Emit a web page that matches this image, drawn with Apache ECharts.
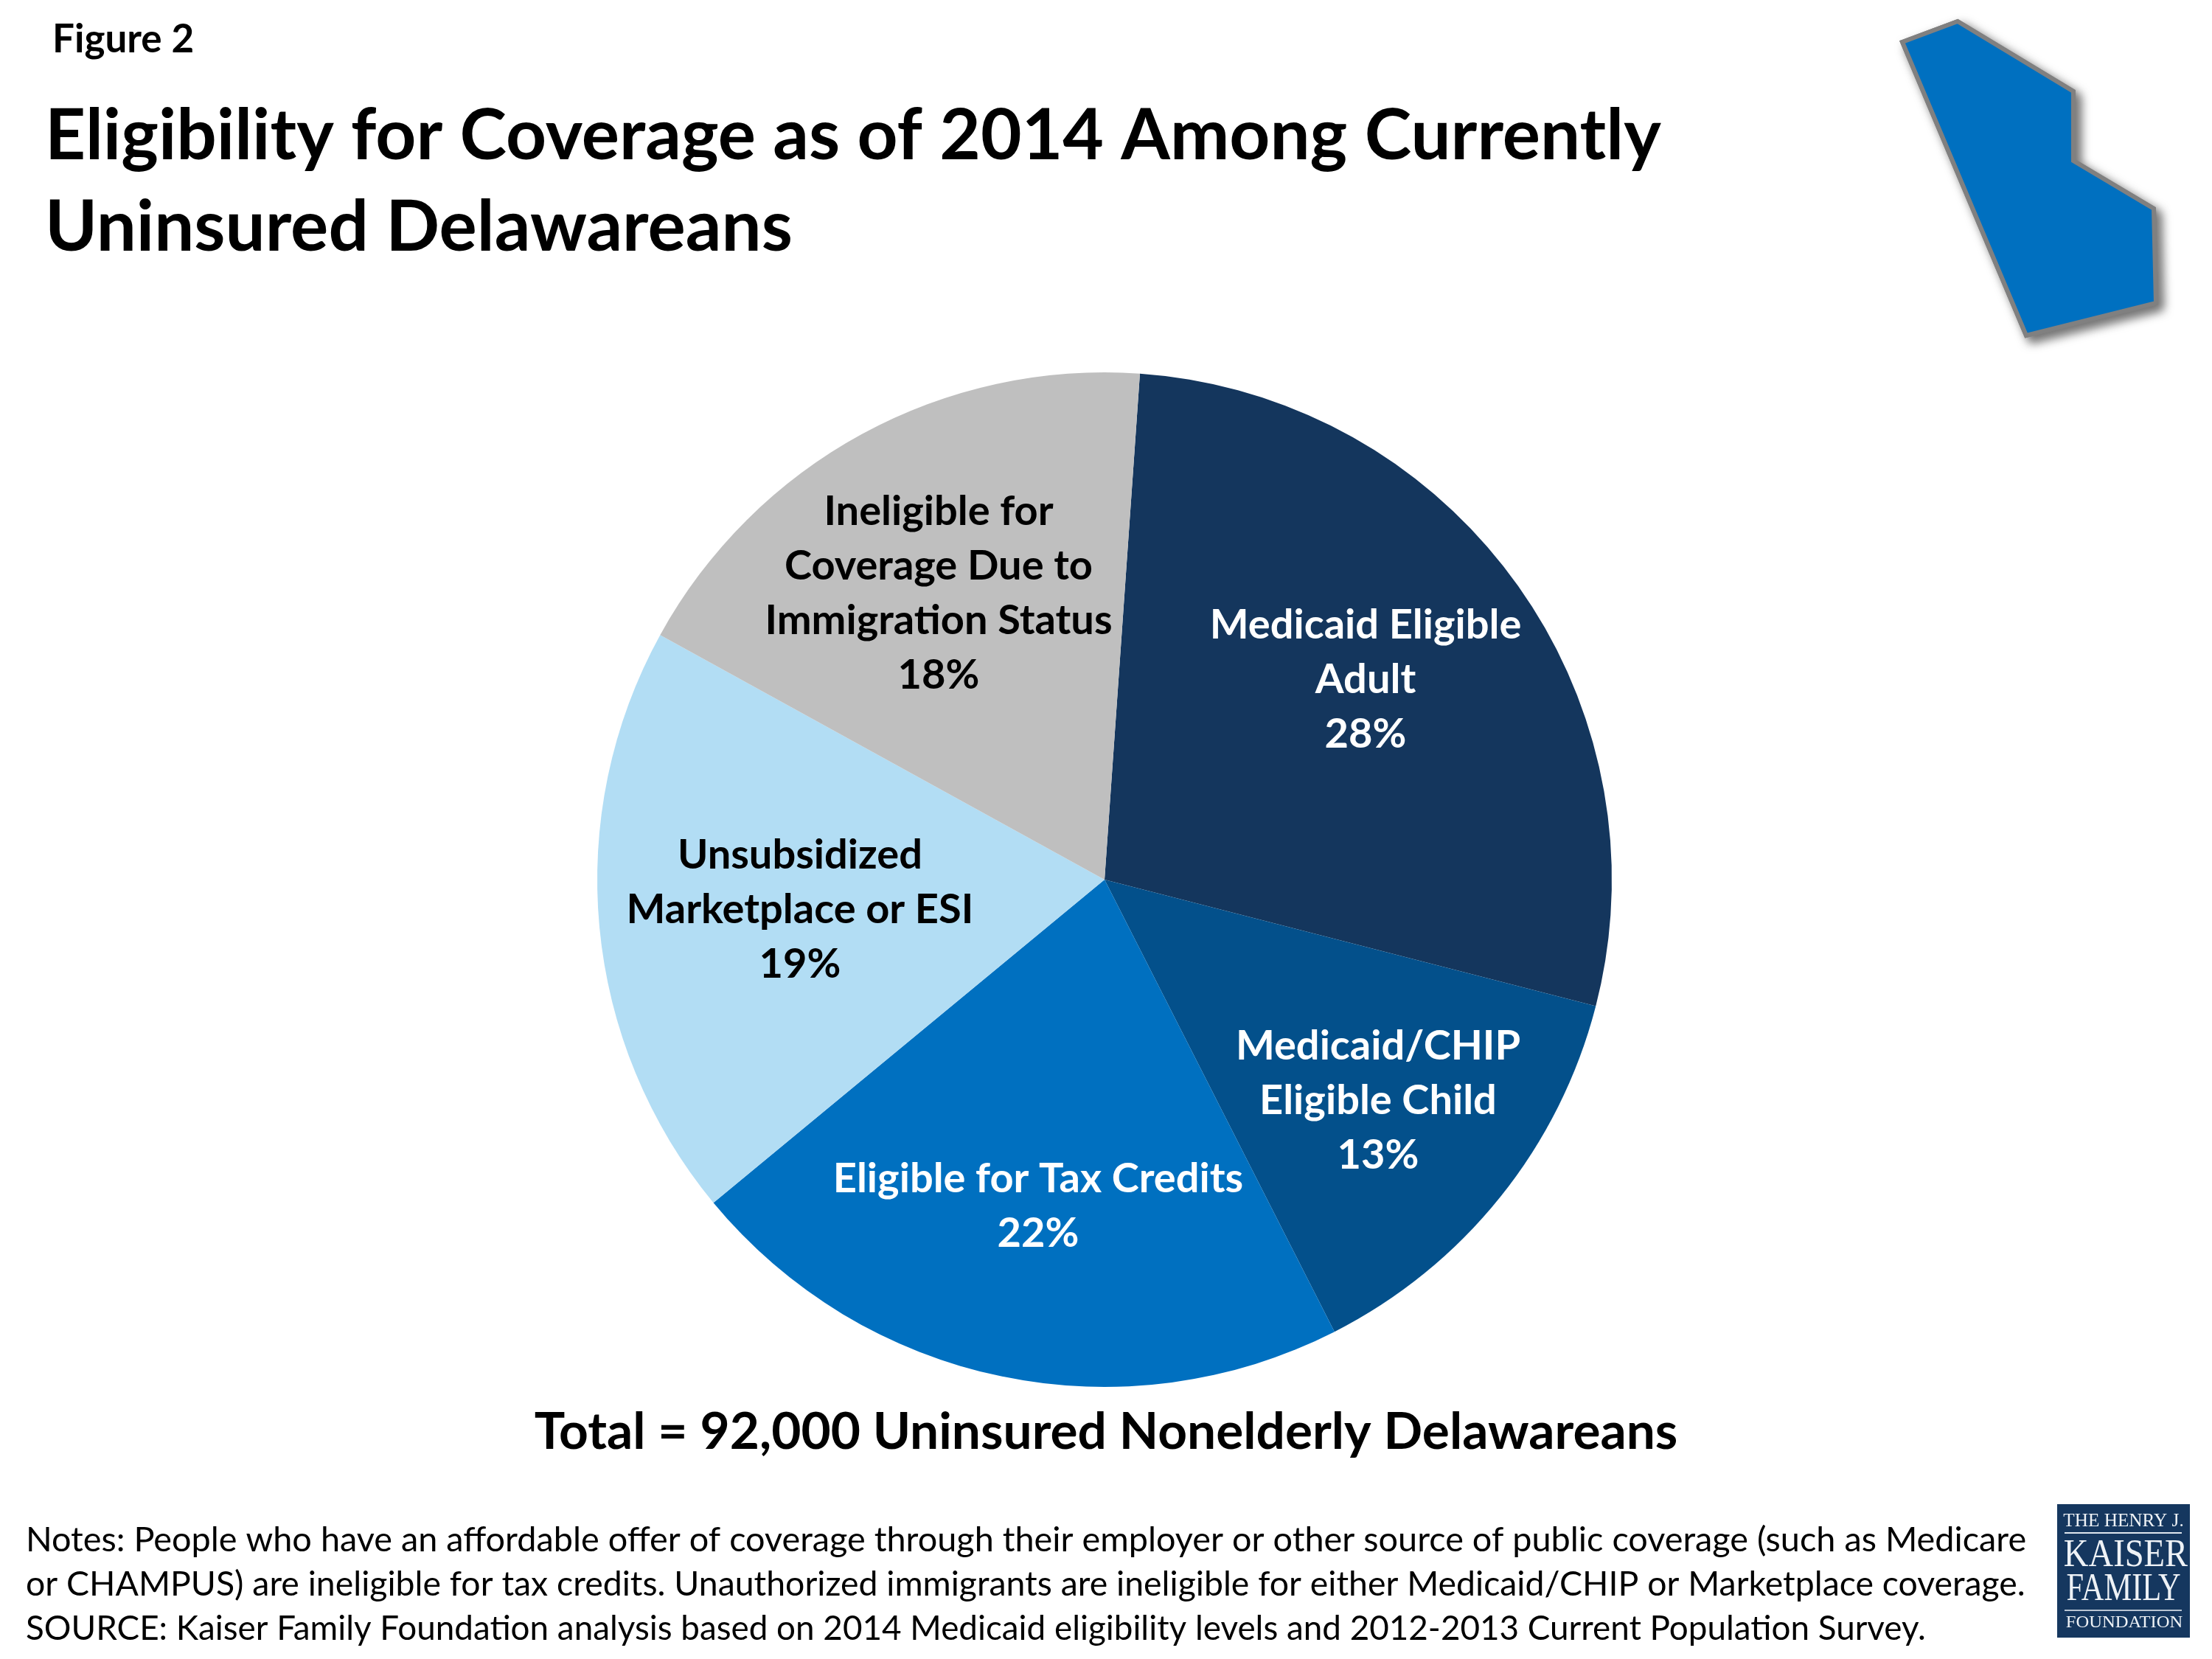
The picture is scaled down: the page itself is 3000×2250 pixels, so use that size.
<!DOCTYPE html>
<html>
<head>
<meta charset="utf-8">
<title>Figure 2</title>
<script src="https://cdn.jsdelivr.net/npm/echarts@6/dist/echarts.min.js"></script>
<style>
  html, body { margin: 0; padding: 0; background: #fff; }
  #chart { width: 3000px; height: 2250px; }
</style>
</head>
<body>
<div id="chart"></div>
<script>
var categories = [
  'Medicaid Eligible\nAdult',
  'Medicaid/CHIP\nEligible Child',
  'Eligible for Tax Credits',
  'Unsubsidized\nMarketplace or ESI',
  'Ineligible for\nCoverage Due to\nImmigration Status'
];
// slice sizes, printed labels are rounded
var sliceValues = [27.9, 13.5, 21.5, 19, 18.1];
var printedPercents = ['28%', '13%', '22%', '19%', '18%'];
var sliceColors = ['#14365d', '#03508b', '#0070c0', '#b2ddf4', '#bfbfbf'];
var labelColors = ['#fff', '#fff', '#fff', '#000', '#000'];

var figureLabel = 'Figure 2';
var titleText = 'Eligibility for Coverage as of 2014 Among Currently\nUninsured Delawareans';
var totalText = 'Total = 92,000 Uninsured Nonelderly Delawareans';
var notesLines = [
  'Notes: People who have an affordable offer of coverage through their employer or other source of public coverage (such as Medicare',
  'or CHAMPUS) are ineligible for tax credits. Unauthorized immigrants are ineligible for either Medicaid/CHIP or Marketplace coverage.',
  'SOURCE: Kaiser Family Foundation analysis based on 2014 Medicaid eligibility levels and 2012-2013 Current Population Survey.'
];
// lato runs a bit different per line, sizes keep the line ends where they belong
var notesSizes = [46.8, 46.4, 45.8];

// where each slice label block is centred
var labelCenters = [[1852, 922], [1869, 1493], [1408, 1636], [1085, 1234], [1273, 805]];

var FONT = 'Lato, sans-serif';
var LOGO_BLUE = '#15375f';
var DELAWARE = [[2580, 57], [2655, 29], [2812, 124], [2812, 218], [2921, 283], [2924, 411], [2748, 455]];

var chart = echarts.init(document.getElementById('chart'));

function logoText(text, cx, y, size, sx) {
  return {
    type: 'text',
    x: cx, y: y, scaleX: sx, scaleY: 1,
    style: {
      text: text, fill: '#eef2f6', font: size + 'px "Liberation Serif"',
      textAlign: 'center', textVerticalAlign: 'middle'
    }
  };
}

var titles = [
  { text: figureLabel, left: 66, top: 22, textStyle: { fontFamily: FONT, fontSize: 53, fontWeight: 'bold', color: '#000' } },
  { text: titleText, left: 56, top: 118, textStyle: { fontFamily: FONT, fontSize: 96, fontWeight: 'bold', color: '#000', lineHeight: 124 } },
  { text: totalText, left: 'center', top: 1903, textStyle: { fontFamily: FONT, fontSize: 69.4, fontWeight: 'bold', color: '#000' } }
];
notesLines.forEach(function (line, i) {
  titles.push({
    text: line, left: 30, top: 2054 + i * 60,
    textStyle: { fontFamily: FONT, fontSize: notesSizes[i], fontWeight: 'normal', color: '#000', lineHeight: 60 }
  });
});

var option = {
  backgroundColor: '#fff',
  animation: false,
  title: titles,
  series: [{
    type: 'pie',
    center: [1498, 1193],
    radius: [0, 688],
    startAngle: 86,
    clockwise: true,
    silent: true,
    data: categories.map(function (name, i) {
      return {
        name: name,
        value: sliceValues[i],
        itemStyle: { color: sliceColors[i] },
        label: { color: labelColors[i] }
      };
    }),
    label: {
      show: true,
      position: 'inside',
      formatter: function (p) { return p.name + '\n' + printedPercents[p.dataIndex]; },
      fontFamily: FONT,
      fontSize: 56,
      fontWeight: 'bold',
      lineHeight: 74,
      align: 'center',
      verticalAlign: 'middle'
    },
    labelLine: { show: false },
    labelLayout: function (p) {
      return { x: labelCenters[p.dataIndex][0], y: labelCenters[p.dataIndex][1], align: 'center', verticalAlign: 'middle' };
    }
  }],
  graphic: [
    // shadow sits on its own shape so it does not fall on the fill
    {
      type: 'polygon',
      shape: { points: DELAWARE },
      style: {
        fill: '#808080', stroke: '#808080', lineWidth: 6,
        shadowColor: 'rgba(0,0,0,0.55)', shadowBlur: 14, shadowOffsetX: 7, shadowOffsetY: 7
      }
    },
    {
      type: 'polygon',
      shape: { points: DELAWARE },
      style: { fill: '#0070c0', stroke: '#808080', lineWidth: 6 }
    },
    { type: 'rect', shape: { x: 2790, y: 2040, width: 180, height: 181 }, style: { fill: LOGO_BLUE } },
    { type: 'rect', shape: { x: 2800, y: 2078, width: 159, height: 2 }, style: { fill: '#dfe6ee' } },
    { type: 'rect', shape: { x: 2800, y: 2183, width: 159, height: 2 }, style: { fill: '#b9c5d3' } },
    logoText('THE HENRY J.', 2880, 2063, 25, 1.01),
    logoText('KAISER', 2883, 2110, 53, 0.88),
    logoText('FAMILY', 2880, 2156, 53, 0.8),
    logoText('FOUNDATION', 2881, 2201, 23, 1.07)
  ]
};

chart.setOption(option);
</script>
</body>
</html>
